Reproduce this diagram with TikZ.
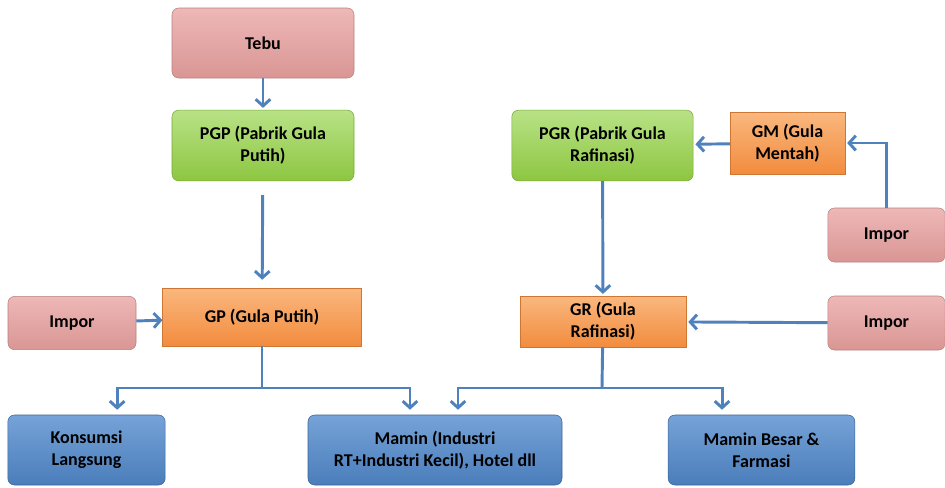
\documentclass[tikz,border=0pt]{standalone}
\usepackage{fontspec}
\setmainfont{Carlito}
\usetikzlibrary{arrows.meta}

\definecolor{tebutop}{HTML}{EDB8B7}
\definecolor{tebubot}{HTML}{D99694}
\definecolor{pabriktop}{HTML}{B8E286}
\definecolor{pabrikbot}{HTML}{8DC641}
\definecolor{gulatop}{HTML}{FAB77E}
\definecolor{gulabot}{HTML}{F28C3E}
\definecolor{pakaitop}{HTML}{76A3D8}
\definecolor{pakaibot}{HTML}{4A7DBA}
\definecolor{alur}{HTML}{4F81BD}

\begin{document}
\begin{tikzpicture}[x=0.75pt,y=-0.75pt,
	box/.style={align=center, inner sep=2pt, text=black,
		font=\bfseries\fontsize{13.5}{16.5}\selectfont},
	bahan/.style={box, rounded corners=5pt, top color=tebutop, bottom color=tebubot, draw=tebubot!85!black, line width=0.4pt},
	pabrik/.style={box, rounded corners=5pt, top color=pabriktop, bottom color=pabrikbot, draw=pabrikbot!85!black, line width=0.4pt},
	gula/.style={box, top color=gulatop, bottom color=gulabot, draw=gulabot!85!black, line width=0.4pt},
	pakai/.style={box, rounded corners=5pt, top color=pakaitop, bottom color=pakaibot, draw=pakaibot!80!black, line width=0.4pt},
	alurpanah/.style={draw=alur, line width=2.2pt, -{Straight Barb[length=5pt,width=11pt]}},
	garis/.style={draw=alur, line width=2.2pt}
]
	\useasboundingbox (0,0) rectangle (945,487);

	\node [bahan, minimum width=136.5pt, minimum height=52.5pt] (tebu) at (263,43) {Tebu};
	\node [pabrik, minimum width=136.5pt, minimum height=53pt] (pgp) at (263,145.5) {PGP (Pabrik Gula\\Putih)};
	\node [gula, minimum width=149pt, minimum height=43.5pt] (gp) at (262,317) {GP (Gula Putih)};
	\node [bahan, minimum width=96pt, minimum height=40pt] (imporgp) at (72,323) {Impor};

	\node [pabrik, minimum width=136pt, minimum height=53pt] (pgr) at (602.5,145.5) {PGR (Pabrik Gula\\Rafinasi)};
	\node [gula, minimum width=86pt, minimum height=46.5pt] (gm) at (787.5,143) {GM (Gula\\Mentah)};
	\node [bahan, minimum width=88pt, minimum height=40.5pt] (impor gm) at (886.5,235) {Impor};
	\node [gula, minimum width=124.5pt, minimum height=38pt] (gr) at (603,321.5) {GR (Gula\\Rafinasi)};
	\node [bahan, minimum width=88pt, minimum height=40.5pt] (impor gr) at (886.5,323) {Impor};

	\node [pakai, minimum width=118pt, minimum height=52.5pt] (konsumsi) at (86.5,450) {Konsumsi\\Langsung};
	\node [pakai, minimum width=190.5pt, minimum height=52.5pt] (mamin) at (435,450) {Mamin (Industri\\RT+Industri Kecil), Hotel dll};
	\node [pakai, minimum width=140pt, minimum height=52.5pt] (besar) at (761.5,450) {Mamin Besar \&\\Farmasi};

	\coordinate (cabanggp) at (262,388);
	\coordinate (cabanggr) at (602,388);

	\draw [alurpanah, shorten >=1.5pt] (tebu) -- (pgp);
	\draw [alurpanah, shorten <=10.5pt, shorten >=6pt] (pgp) -- (gp);
	\draw [alurpanah] (imporgp) -- (gp);
	\draw [garis] (gp) -- (cabanggp);
	\draw [alurpanah, shorten >=3.75pt] (cabanggp) -| ([xshift=23pt]konsumsi.north);
	\draw [alurpanah, shorten >=3.75pt] (cabanggp) -| ([xshift=-18.75pt]mamin.north);

	\draw [alurpanah, shorten >=1.5pt] (gm) -- (pgr);
	\draw [alurpanah, shorten >=1.5pt] (impor gm) |- (gm);
	\draw [alurpanah, shorten >=1.5pt] (pgr) -- (gr);
	\draw [alurpanah, shorten >=1.5pt] (impor gr) -- (gr);
	\draw [garis] (gr) -- (cabanggr);
	\draw [alurpanah, shorten >=3.75pt] (cabanggr) -| ([xshift=17.25pt]mamin.north);
	\draw [alurpanah, shorten >=3.75pt] (cabanggr) -| ([xshift=-29.6pt]besar.north);
\end{tikzpicture}
\end{document}
